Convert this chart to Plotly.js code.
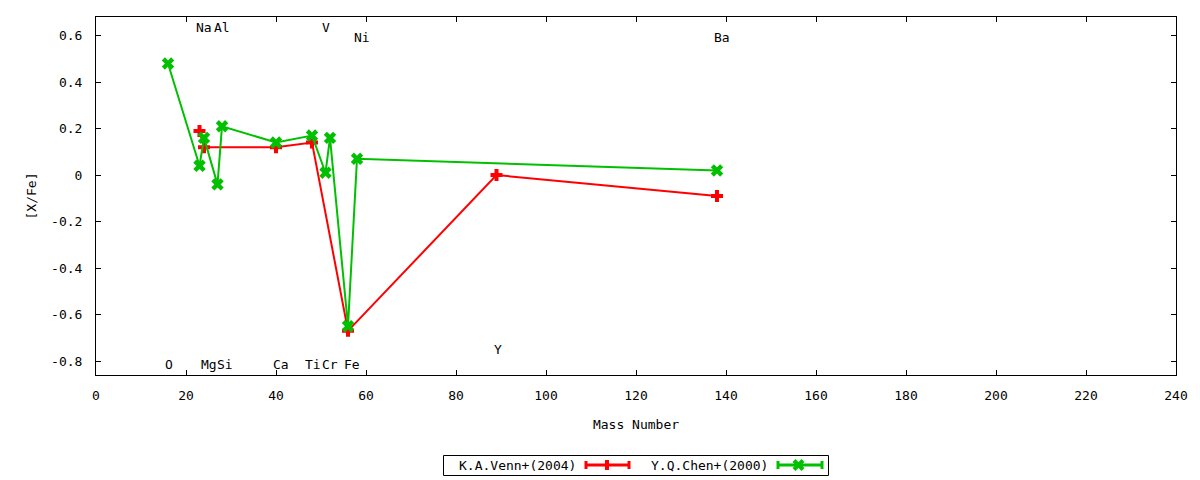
<!DOCTYPE html>
<html><head><meta charset="utf-8">
<script src="https://cdn.plot.ly/plotly-3.0.1.min.js"></script>
<style>html,body{margin:0;padding:0;background:#fff}#chart{width:1200px;height:480px}</style>
</head><body><div id="chart"></div>
<script>
// ---- data ----
const vennMass = [23, 24, 40, 48, 56, 89, 138];
const vennXFe  = [0.19, 0.12, 0.12, 0.14, -0.67, 0.00, -0.09];
const chenMass = [16, 23, 24, 27, 28, 40, 48, 51, 52, 56, 58, 138];
const chenXFe  = [0.48, 0.04, 0.16, -0.04, 0.21, 0.14, 0.17, 0.01, 0.16, -0.65, 0.07, 0.02];
const seriesNames = ['K.A.Venn+(2004)', 'Y.Q.Chen+(2000)'];
const elementNames  = ['O', 'Na', 'Mg', 'Al', 'Si', 'Ca', 'Ti', 'V', 'Cr', 'Fe', 'Ni', 'Y', 'Ba'];
const elementLabelX = [16.2, 24.1, 25.0, 28.0, 28.6, 41.0, 48.2, 51.2, 51.9, 56.8, 59.2, 89.3, 139.2];
const elementLabelY = [-0.816, 0.633, -0.816, 0.633, -0.816, -0.816, -0.816, 0.633, -0.816, -0.816, 0.590, -0.751, 0.590];
const xTickVals = [0, 20, 40, 60, 80, 100, 120, 140, 160, 180, 200, 220, 240];
const yTickVals = [-0.8, -0.6, -0.4, -0.2, 0, 0.2, 0.4, 0.6];
const yTickText = ['-0.8', '-0.6', '-0.4', '-0.2', '0', '0.2', '0.4', '0.6'];

// ---- styling ----
const FONT = 'DejaVu Sans Mono';
const RED = '#ff0000', GREEN = '#00c000';
const M = {l: 96, r: 24, t: 17, b: 105};
const W = 1200 - M.l - M.r, H = 480 - M.t - M.b;
const px = x => (x - M.l) / W;
const py = y => (480 - M.b - y) / H;

const traces = [
  {x: vennMass, y: vennXFe, name: seriesNames[0], type: 'scatter', mode: 'lines+markers',
   line: {color: RED, width: 2}, marker: {symbol: 'cross', size: 10, color: RED}, showlegend: false},
  {x: chenMass, y: chenXFe, name: seriesNames[1], type: 'scatter', mode: 'lines+markers',
   line: {color: GREEN, width: 2}, marker: {symbol: 'x', size: 11, color: GREEN}, showlegend: false}
];

const annotations = elementNames.map((n, i) => ({
  x: elementLabelX[i], y: elementLabelY[i], xref: 'x', yref: 'y', text: n, showarrow: false,
  xanchor: 'center', yanchor: 'middle', font: {family: FONT, size: 13, color: '#000'}
}));

// custom gnuplot-style legend (text then sample)
function sample(x0, x1, yc, color, markerShapes) {
  const s = [
    {type: 'line', xref: 'paper', yref: 'paper', x0: px(x0), x1: px(x1), y0: py(yc), y1: py(yc), line: {color, width: 3}},
    {type: 'line', xref: 'paper', yref: 'paper', x0: px(x0), x1: px(x0), y0: py(yc - 4), y1: py(yc + 4), line: {color, width: 3}},
    {type: 'line', xref: 'paper', yref: 'paper', x0: px(x1), x1: px(x1), y0: py(yc - 4), y1: py(yc + 4), line: {color, width: 3}}
  ];
  return s.concat(markerShapes);
}
const legY = 465;
const shapes = [
  {type: 'rect', xref: 'paper', yref: 'paper', x0: px(443.5), x1: px(828.5), y0: py(455.5), y1: py(475.5),
   line: {color: '#000', width: 1}, fillcolor: 'rgba(0,0,0,0)'}
].concat(sample(586, 629, legY, RED, [
  {type: 'line', xref: 'paper', yref: 'paper', x0: px(607), x1: px(607), y0: py(legY - 5), y1: py(legY + 5), line: {color: RED, width: 4}}
])).concat(sample(778, 822, legY, GREEN, [
  {type: 'line', xref: 'paper', yref: 'paper', x0: px(794), x1: px(803), y0: py(legY - 4.5), y1: py(legY + 4.5), line: {color: GREEN, width: 4}},
  {type: 'line', xref: 'paper', yref: 'paper', x0: px(794), x1: px(803), y0: py(legY + 4.5), y1: py(legY - 4.5), line: {color: GREEN, width: 4}}
]));
annotations.push(
  {x: px(578), y: py(legY), xref: 'paper', yref: 'paper', text: seriesNames[0], showarrow: false,
   xanchor: 'right', yanchor: 'middle', font: {family: FONT, size: 13, color: '#000'}},
  {x: px(770), y: py(legY), xref: 'paper', yref: 'paper', text: seriesNames[1], showarrow: false,
   xanchor: 'right', yanchor: 'middle', font: {family: FONT, size: 13, color: '#000'}}
);

const axisCommon = {
  showline: true, linecolor: '#000', linewidth: 1, mirror: 'ticks', ticks: 'inside',
  ticklen: 5, tickcolor: '#000', tickwidth: 1, showgrid: false, zeroline: false,
  tickfont: {family: FONT, size: 13, color: '#000'}
};

const layout = {
  width: 1200, height: 480, margin: M, paper_bgcolor: '#fff', plot_bgcolor: '#fff',
  showlegend: false, font: {family: FONT, size: 13, color: '#000'},
  xaxis: Object.assign({}, axisCommon, {
    range: [0, 240], tickvals: xTickVals, ticktext: xTickVals.map(String), ticklabelstandoff: 8,
    title: {text: 'Mass Number', font: {family: FONT, size: 13, color: '#000'}, standoff: 18}, automargin: false
  }),
  yaxis: Object.assign({}, axisCommon, {
    range: [-0.86, 0.68], tickvals: yTickVals, ticktext: yTickText, ticklabelstandoff: 10,
    title: {text: '[X/Fe]', font: {family: FONT, size: 13, color: '#000'}, standoff: 11}, automargin: false
  }),
  annotations, shapes
};

Plotly.newPlot('chart', traces, layout, {staticPlot: true, displayModeBar: false});
</script>
</body></html>
